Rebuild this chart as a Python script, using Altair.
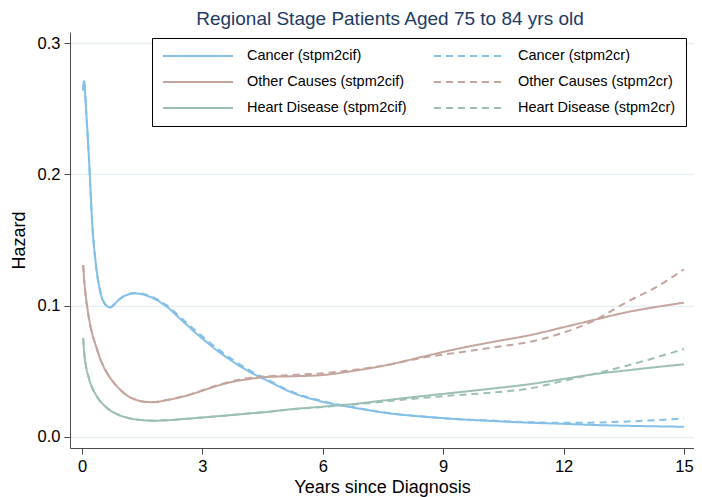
import altair as alt
import pandas as pd

# time grid (years since diagnosis)
t = [0.03, 0.05, 0.1, 0.17, 0.26, 0.34, 0.46, 0.58, 0.69, 0.8, 0.96, 1.15, 1.33, 1.55,
     1.78, 2.1, 2.5, 2.9, 3.35, 3.75, 4.2, 4.6, 5.2, 6.0, 6.8, 7.6, 8.5, 9.3, 10.2,
     11.2, 12.0, 12.8, 13.6, 14.3, 15.0]

cancer_cif = [0.264, 0.271, 0.250, 0.214, 0.160, 0.133, 0.110, 0.101, 0.0988, 0.101, 0.1056,
              0.1085, 0.1094, 0.1083, 0.1056, 0.0995, 0.0885, 0.0775, 0.0663, 0.0576, 0.0492,
              0.0432, 0.0342, 0.0268, 0.0222, 0.0182, 0.0155, 0.0137, 0.0122, 0.0108, 0.0100,
              0.0091, 0.0085, 0.0081, 0.0078]
cancer_cr = [0.264, 0.271, 0.250, 0.214, 0.160, 0.133, 0.110, 0.101, 0.0985, 0.1008, 0.1056,
             0.1088, 0.1097, 0.1088, 0.1063, 0.1005, 0.0898, 0.0790, 0.0678, 0.0590, 0.0503,
             0.0440, 0.0348, 0.0272, 0.0224, 0.0184, 0.0156, 0.0137, 0.0125, 0.0112, 0.0108,
             0.0110, 0.0118, 0.0128, 0.0142]
other_cif = [0.131, 0.121, 0.106, 0.091, 0.078, 0.070, 0.059, 0.051, 0.0455, 0.041, 0.0358,
             0.031, 0.0285, 0.0268, 0.0265, 0.0280, 0.0306, 0.0342, 0.0388, 0.0420, 0.0443,
             0.0457, 0.0462, 0.0472, 0.0505, 0.0548, 0.0612, 0.0668, 0.0722, 0.0778, 0.0836,
             0.0895, 0.0952, 0.0990, 0.1023]
other_cr = [0.131, 0.121, 0.106, 0.091, 0.078, 0.070, 0.059, 0.051, 0.0455, 0.041, 0.0358,
            0.031, 0.0285, 0.0268, 0.0266, 0.0281, 0.0308, 0.0345, 0.0392, 0.0426, 0.0452,
            0.0462, 0.0472, 0.0485, 0.0512, 0.0548, 0.0605, 0.0640, 0.0680, 0.0728, 0.0795,
            0.0893, 0.1032, 0.1140, 0.1277]
heart_cif = [0.0752, 0.066, 0.054, 0.045, 0.037, 0.0325, 0.027, 0.0233, 0.0205, 0.0185, 0.0162,
             0.0145, 0.0134, 0.0127, 0.0124, 0.0127, 0.0136, 0.0146, 0.0157, 0.0168, 0.0180,
             0.0190, 0.0211, 0.0231, 0.0252, 0.0281, 0.0312, 0.0338, 0.0368, 0.0404, 0.0442,
             0.0480, 0.0508, 0.0532, 0.0553]
heart_cr = [0.0752, 0.066, 0.054, 0.045, 0.037, 0.0325, 0.027, 0.0233, 0.0205, 0.0185, 0.0162,
            0.0145, 0.0134, 0.0127, 0.0124, 0.0127, 0.0136, 0.0146, 0.0157, 0.0168, 0.0181,
            0.0191, 0.0210, 0.0229, 0.0248, 0.0272, 0.0298, 0.0318, 0.0338, 0.0372, 0.0428,
            0.0484, 0.0545, 0.0605, 0.0670]

# legend fills column by column: first the stpm2cif column, then the stpm2cr column
labels = ["Cancer (stpm2cif)", "Other Causes (stpm2cif)", "Heart Disease (stpm2cif)",
          "Cancer (stpm2cr)", "Other Causes (stpm2cr)", "Heart Disease (stpm2cr)"]
series_values = [cancer_cif, other_cif, heart_cif, cancer_cr, other_cr, heart_cr]
colors = ["#84bfe7", "#c4a59d", "#9cbfb4", "#84bfe7", "#c4a59d", "#9cbfb4"]
dashes = [[1, 0], [1, 0], [1, 0], [7, 5], [7, 5], [7, 5]]

rows = []
for lab, vals in zip(labels, series_values):
    for ti, v in zip(t, vals):
        rows.append({"t": ti, "hazard": v, "series": lab})
df = pd.DataFrame(rows)

legend = alt.Legend(
    orient="none", legendX=82, legendY=6, columns=2, columnPadding=26, rowPadding=10,
    clipHeight=16, padding=10, strokeColor="black", fillColor="white",
    symbolType="stroke", symbolSize=4900, symbolStrokeWidth=2,
    labelFontSize=14.5, labelFont="Liberation Sans", labelColor="black",
    labelOffset=13, labelLimit=400, title=None,
)

chart = alt.Chart(df).mark_line(strokeWidth=2, interpolate="monotone", clip=True).encode(
    x=alt.X("t:Q", scale=alt.Scale(domain=[-0.299, 15.25], nice=False, zero=False),
            axis=alt.Axis(values=[0, 3, 6, 9, 12, 15], format="d", grid=False,
                          labelPadding=4, titlePadding=4, labelFlush=False,
                          title="Years since Diagnosis")),
    y=alt.Y("hazard:Q", scale=alt.Scale(domain=[-0.0084, 0.3085], nice=False, zero=False),
            axis=alt.Axis(values=[0, 0.1, 0.2, 0.3], format=".1f", grid=True,
                          labelPadding=4, titlePadding=9, title="Hazard")),
    color=alt.Color("series:N", scale=alt.Scale(domain=labels, range=colors), legend=legend),
    strokeDash=alt.StrokeDash("series:N", scale=alt.Scale(domain=labels, range=dashes), legend=legend),
).properties(
    width=624, height=416,
    padding={"left": 62, "top": 24, "right": 0, "bottom": 49},
    autosize=alt.AutoSizeParams(type="none"),
    title=alt.Title("Regional Stage Patients Aged 75 to 84 yrs old", fontSize=19,
                    font="Liberation Sans", fontWeight="normal", color="#1e3a64",
                    anchor="middle", frame="group", offset=3, dx=8),
).configure_view(stroke=None).configure_axis(
    labelFont="Liberation Sans", titleFont="Liberation Sans", labelColor="black",
    titleColor="black", domainColor="#4a4a4a", tickColor="#4a4a4a", tickSize=6,
    labelFontSize=16.5, titleFontSize=18, titleFontWeight="normal",
    gridColor="#e6eef1", gridWidth=1.5,
)

chart.save("out.html", embed_options={"renderer": "svg", "actions": False})
